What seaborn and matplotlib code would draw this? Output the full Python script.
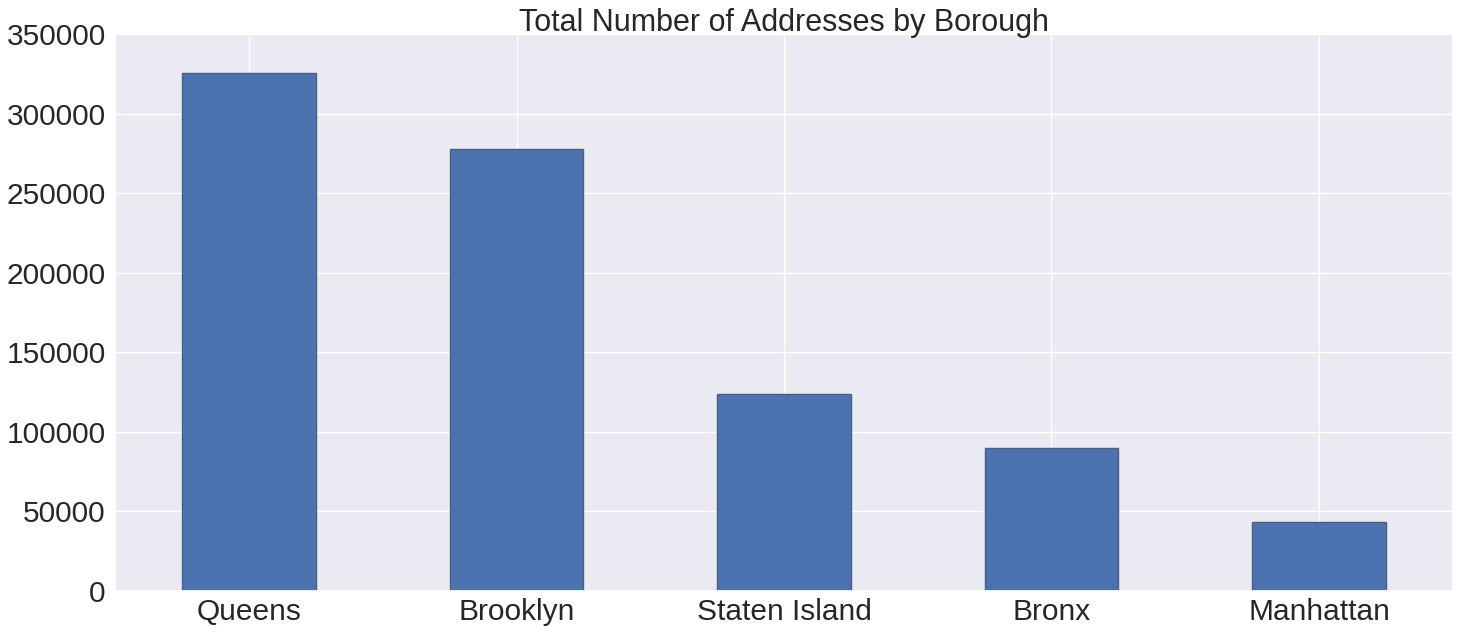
import pandas as pd
import seaborn as sns
import matplotlib.pyplot as plt

# Datos
boroughs = ['Queens', 'Brooklyn', 'Staten Island', 'Bronx', 'Manhattan']
addresses = [325500, 278100, 124100, 90100, 43400]

df = pd.DataFrame({'borough': boroughs, 'addresses': addresses})

sns.set_theme(style="darkgrid")
plt.rcParams['font.family'] = ['Liberation Sans', 'DejaVu Sans']

fig, ax = plt.subplots(figsize=(14.6, 6.34), dpi=100)
fig.subplots_adjust(left=0.079, right=0.995, top=0.946, bottom=0.068)

sns.barplot(data=df, x='borough', y='addresses', color='#4C72B0', saturation=1,
            width=0.5, edgecolor='#4a5e7e', linewidth=1, ax=ax)

ax.set_xlim(-0.5, 4.5)
ax.set_ylim(0, 350000)
ax.set_xlabel('')
ax.set_ylabel('')
ax.set_title('Total Number of Addresses by Borough', fontsize=22, pad=2)
ax.tick_params(axis='y', labelsize=21.5, length=0, pad=7)
ax.tick_params(axis='x', labelsize=21.5, length=0, pad=5)
ax.grid(True, axis='x', color='white', linewidth=1)

plt.savefig('out.png', dpi=100)
